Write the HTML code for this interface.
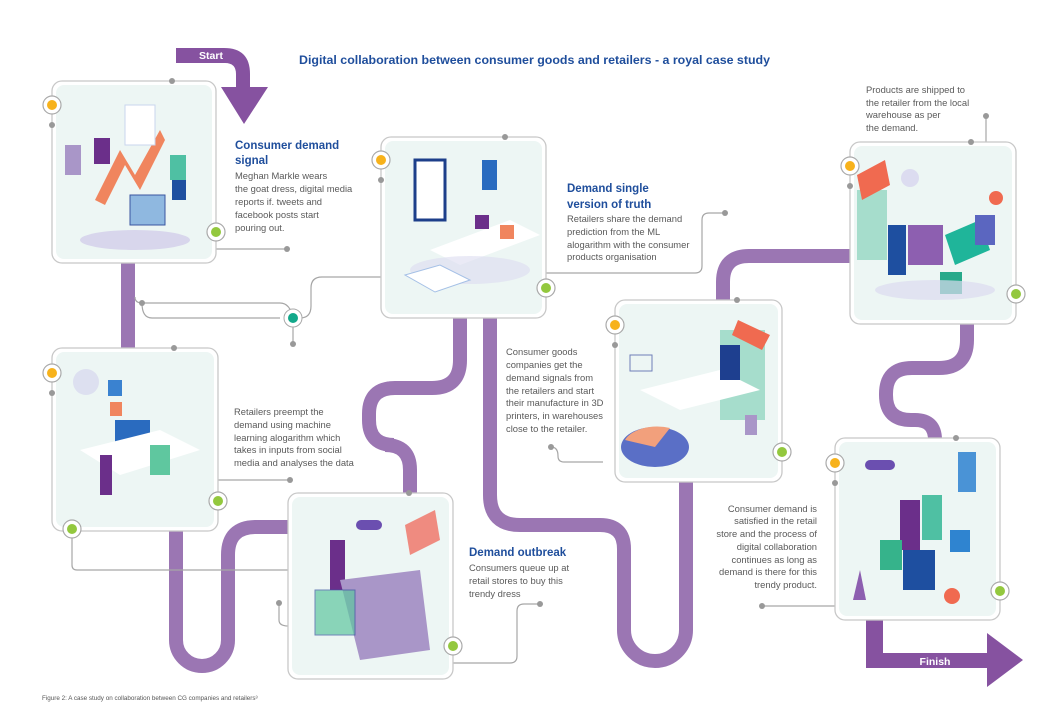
<!DOCTYPE html>
<html><head><meta charset="utf-8"><style>
body{margin:0;background:#fff;}
svg{display:block;font-family:"Liberation Sans",sans-serif;}
.t{fill:#5a5a5a;font-size:9.4px;}
.h{fill:#1f4e9c;font-size:11.5px;font-weight:bold;}
</style></head><body>
<svg width="1052" height="713" viewBox="0 0 1052 713" xmlns="http://www.w3.org/2000/svg">
<rect width="1052" height="713" fill="#fff"/>
<g fill="none" stroke="#9b76b3" stroke-width="14">
<path d="M128 262 V350"/>
<path d="M176 530 V640 a26 26 0 0 0 52 0 V555 q0 -28 28 -28 H290"/>
<path d="M460 316 V360 q0 28 -28 28 H395 q-26 0 -26 26 V420 q0 25 25 25 H385 q25 0 25 25 V495"/>
<path d="M490 316 V495 q0 30 30 30 H600 q24 0 24 24 V630 a31 31 0 0 0 62 0 V480"/>
<path d="M723 302 V282 q0 -26 26 -26 H852"/>
<path d="M967 322 V340 q0 28 -28 28 H912 q-26 0 -26 26 V395 q0 25 25 25 H915 q20 0 20 20"/>
</g>
<path d="M176 48 H224 q26 0 26 26 V87 H268 L244 124 L221 87 H236 V74 q0 -11 -11 -11 H176 Z" fill="#8652a0"/>
<text x="211" y="59" fill="#fff" font-size="10.5" font-weight="bold" text-anchor="middle">Start</text>
<path d="M866 620 H883 V653 H987 V633 L1023 660 L987 687 V668 H866 Z" fill="#8652a0"/>
<text x="935" y="665" fill="#fff" font-size="10.5" font-weight="bold" text-anchor="middle">Finish</text>
<text x="299" y="64" fill="#1f4e9c" font-size="12.4" font-weight="bold">Digital collaboration between consumer goods and retailers - a royal case study</text>
<g fill="none" stroke="#a6a6a6" stroke-width="1.2">
<path d="M215 249 H287"/>
<path d="M135 297 q0 6 7 6 H280 q10 0 13 15"/>
<path d="M142 303 q0 15 10 15 H280"/>
<path d="M293 318 V344"/>
<path d="M300 318 q11 0 11 -12 V288 q0 -11 11 -11 H382"/>
<path d="M546 273 H695 q7 0 7 -7 V220 q0 -7 7 -7 H725"/>
<path d="M986 142 V116"/>
<path d="M603 462 H564 q-6 0 -6 -6 q0 -9 -7 -9"/>
<path d="M218 480 H290"/>
<path d="M72 530 V565 q0 5 5 5 H289"/>
<path d="M279 603 V620 q0 6 9 6"/>
<path d="M452 663 H510 q7 0 7 -7 V611 q0 -7 7 -7 H540"/>
<path d="M835 606 H762"/>
</g>
<g fill="#999">
<circle cx="287" cy="249" r="3"/><circle cx="142" cy="303" r="3"/><circle cx="293" cy="344" r="3"/>
<circle cx="725" cy="213" r="3"/><circle cx="986" cy="116" r="3"/><circle cx="551" cy="447" r="3"/>
<circle cx="290" cy="480" r="3"/><circle cx="279" cy="603" r="3"/><circle cx="540" cy="604" r="3"/><circle cx="762" cy="606" r="3"/>
</g>
<circle cx="293" cy="318" r="9" fill="#fff" stroke="#aaa"/><circle cx="293" cy="318" r="5" fill="#12a88a"/>
<g>
<g><rect x="52" y="81" width="164" height="182" rx="10" fill="#fff" stroke="#c8c8c8" stroke-width="1.3"/><rect x="56" y="85" width="156" height="174" rx="8" fill="#edf6f4"/></g>
<g><rect x="381" y="137" width="165" height="181" rx="10" fill="#fff" stroke="#c8c8c8" stroke-width="1.3"/><rect x="385" y="141" width="157" height="173" rx="8" fill="#edf6f4"/></g>
<g><rect x="52" y="348" width="166" height="183" rx="10" fill="#fff" stroke="#c8c8c8" stroke-width="1.3"/><rect x="56" y="352" width="158" height="175" rx="8" fill="#edf6f4"/></g>
<g><rect x="288" y="493" width="165" height="186" rx="10" fill="#fff" stroke="#c8c8c8" stroke-width="1.3"/><rect x="292" y="497" width="157" height="178" rx="8" fill="#edf6f4"/></g>
<g><rect x="615" y="300" width="167" height="182" rx="10" fill="#fff" stroke="#c8c8c8" stroke-width="1.3"/><rect x="619" y="304" width="159" height="174" rx="8" fill="#edf6f4"/></g>
<g><rect x="850" y="142" width="166" height="182" rx="10" fill="#fff" stroke="#c8c8c8" stroke-width="1.3"/><rect x="854" y="146" width="158" height="174" rx="8" fill="#edf6f4"/></g>
<g><rect x="835" y="438" width="165" height="182" rx="10" fill="#fff" stroke="#c8c8c8" stroke-width="1.3"/><rect x="839" y="442" width="157" height="174" rx="8" fill="#edf6f4"/></g>
</g>
<g>
<ellipse cx="135" cy="240" rx="55" ry="10" fill="#d8d6ec"/>
<path d="M95 200 L120 150 L135 175 L160 130 L165 140 L140 190 L125 165 L105 205Z" fill="#f0855e"/>
<rect x="125" y="105" width="30" height="40" fill="#fff" stroke="#c9d5ee"/>
<rect x="65" y="145" width="16" height="30" fill="#a996c8"/><rect x="94" y="138" width="16" height="26" fill="#6b2f8a"/>
<rect x="130" y="195" width="35" height="30" fill="#8fb8e0" stroke="#3a55a0"/><rect x="170" y="155" width="16" height="25" fill="#4fc0a3"/><rect x="172" y="180" width="14" height="20" fill="#1e4fa0"/>
<rect x="415" y="160" width="30" height="60" fill="#fff" stroke="#1d3f8a" stroke-width="3"/>
<path d="M430 250 L510 220 L540 235 L460 265Z" fill="#fff"/><ellipse cx="470" cy="270" rx="60" ry="14" fill="#dcdcf0" opacity=".6"/>
<rect x="482" y="160" width="15" height="30" fill="#2a6bbf"/><rect x="475" y="215" width="14" height="14" fill="#6b2f8a"/><rect x="500" y="225" width="14" height="14" fill="#f0855e"/>
<path d="M405 275 L440 265 L470 280 L435 292Z" fill="#fff" stroke="#a5c0e6"/>
<circle cx="86" cy="382" r="13" fill="#dde0f0"/><rect x="108" y="380" width="14" height="16" fill="#3a82d0"/><rect x="110" y="402" width="12" height="14" fill="#f0855e"/>
<rect x="115" y="420" width="35" height="28" fill="#2a6bbf"/><path d="M80 450 L160 430 L200 450 L120 475Z" fill="#fff"/>
<rect x="100" y="455" width="12" height="40" fill="#6b2f8a"/><rect x="150" y="445" width="20" height="30" fill="#5fc79f"/>
<rect x="330" y="540" width="15" height="50" fill="#6b2f8a"/><path d="M340 580 L420 570 L430 650 L360 660Z" fill="#a996c8"/>
<rect x="315" y="590" width="40" height="45" fill="#5fc79f" opacity=".7" stroke="#3a55a0"/>
<rect x="356" y="520" width="26" height="10" rx="5" fill="#6b4fb0"/><path d="M405 525 L435 510 L440 540 L410 555Z" fill="#ef5e4e" opacity=".7"/>
<rect x="720" y="330" width="45" height="90" fill="#a6ddcc"/><path d="M738 320 L770 335 L762 350 L732 335Z" fill="#f06a50"/>
<path d="M640 390 L720 370 L760 390 L680 410Z" fill="#fff"/><rect x="720" y="345" width="20" height="35" fill="#1e3f8f"/>
<ellipse cx="655" cy="447" rx="34" ry="20" fill="#5a6fc6"/><path d="M655 447 L625 440 A34 20 0 0 1 670 428Z" fill="#f2a07c"/>
<rect x="630" y="355" width="22" height="16" fill="none" stroke="#6e7fb8"/><rect x="745" y="415" width="12" height="20" fill="#a996c8"/>
<rect x="857" y="190" width="30" height="70" fill="#a6ddcc"/><path d="M857 175 L885 160 L890 185 L862 200Z" fill="#f06a50"/>
<rect x="888" y="225" width="18" height="50" fill="#1e4fa0"/><rect x="908" y="225" width="35" height="40" fill="#8d5fb0"/>
<path d="M945 235 L980 220 L990 250 L955 265Z" fill="#1fb59a"/><rect x="975" y="215" width="20" height="30" fill="#5b66c0"/>
<circle cx="996" cy="198" r="7" fill="#f06a50"/><rect x="940" y="272" width="22" height="22" fill="#27a98a"/>
<circle cx="910" cy="178" r="9" fill="#dcdcf0"/><ellipse cx="935" cy="290" rx="60" ry="10" fill="#dcdcf0" opacity=".7"/>
<rect x="865" y="460" width="30" height="10" rx="5" fill="#6b4fb0"/><rect x="958" y="452" width="18" height="40" fill="#4a93d6"/>
<rect x="900" y="500" width="20" height="50" fill="#6b2f8a"/><rect x="922" y="495" width="20" height="45" fill="#4fc0a3"/>
<rect x="903" y="550" width="32" height="40" fill="#1e4fa0"/><rect x="880" y="540" width="22" height="30" fill="#36b38b"/>
<rect x="950" y="530" width="20" height="22" fill="#2f84d0"/><circle cx="952" cy="596" r="8" fill="#f06a50"/>
<path d="M853 600 L860 570 L866 600Z" fill="#8d5fb0"/>
</g>
<g>
<g fill="#fff" stroke="#aaa" stroke-width="1.2">
<circle cx="52" cy="105" r="9"/><circle cx="216" cy="232" r="9"/>
<circle cx="381" cy="160" r="9"/><circle cx="546" cy="288" r="9"/>
<circle cx="52" cy="373" r="9"/><circle cx="218" cy="501" r="9"/><circle cx="72" cy="529" r="9"/>
<circle cx="453" cy="646" r="9"/>
<circle cx="615" cy="325" r="9"/><circle cx="782" cy="452" r="9"/>
<circle cx="850" cy="166" r="9"/><circle cx="1016" cy="294" r="9"/>
<circle cx="835" cy="463" r="9"/><circle cx="1000" cy="591" r="9"/>
</g>
<g fill="#f7b21b"><circle cx="52" cy="105" r="5"/><circle cx="381" cy="160" r="5"/><circle cx="52" cy="373" r="5"/><circle cx="615" cy="325" r="5"/><circle cx="850" cy="166" r="5"/><circle cx="835" cy="463" r="5"/></g>
<g fill="#93c83e"><circle cx="216" cy="232" r="5"/><circle cx="546" cy="288" r="5"/><circle cx="218" cy="501" r="5"/><circle cx="72" cy="529" r="5"/><circle cx="453" cy="646" r="5"/><circle cx="782" cy="452" r="5"/><circle cx="1016" cy="294" r="5"/><circle cx="1000" cy="591" r="5"/></g>
<g fill="#999"><circle cx="172" cy="81" r="3"/><circle cx="52" cy="125" r="3"/><circle cx="505" cy="137" r="3"/><circle cx="381" cy="180" r="3"/>
<circle cx="174" cy="348" r="3"/><circle cx="52" cy="393" r="3"/><circle cx="409" cy="493" r="3"/><circle cx="737" cy="300" r="3"/><circle cx="615" cy="345" r="3"/>
<circle cx="971" cy="142" r="3"/><circle cx="850" cy="186" r="3"/><circle cx="956" cy="438" r="3"/><circle cx="835" cy="483" r="3"/></g>
</g>
<text class="h" x="235" y="149">Consumer demand</text>
<text class="h" x="235" y="164">signal</text>
<g class="t"><text x="235" y="179">Meghan Markle wears</text><text x="235" y="192">the goat dress, digital media</text><text x="235" y="205">reports if. tweets and</text><text x="235" y="218">facebook posts start</text><text x="235" y="231">pouring out.</text></g>
<text class="h" x="567" y="192">Demand single</text>
<text class="h" x="567" y="208">version of truth</text>
<g class="t"><text x="567" y="222">Retailers share the demand</text><text x="567" y="235">prediction from the ML</text><text x="567" y="248">alogarithm with the consumer</text><text x="567" y="260">products organisation</text></g>
<g class="t"><text x="866" y="93">Products are shipped to</text><text x="866" y="106">the retailer from  the local</text><text x="866" y="118">warehouse as per</text><text x="866" y="131">the demand.</text></g>
<g class="t"><text x="506" y="355">Consumer goods</text><text x="506" y="368">companies get the</text><text x="506" y="381">demand signals from</text><text x="506" y="394">the retailers and start</text><text x="506" y="406">their manufacture in 3D</text><text x="506" y="419">printers, in warehouses</text><text x="506" y="432">close to the retailer.</text></g>
<g class="t"><text x="234" y="415">Retailers preempt the</text><text x="234" y="428">demand using machine</text><text x="234" y="441">learning alogarithm which</text><text x="234" y="453">takes in inputs from social</text><text x="234" y="466">media and analyses the data</text></g>
<text class="h" x="469" y="556">Demand outbreak</text>
<g class="t"><text x="469" y="571">Consumers queue up at</text><text x="469" y="584">retail stores to buy this</text><text x="469" y="597">trendy dress</text></g>
<g class="t" text-anchor="end"><text x="817" y="512">Consumer demand is</text><text x="817" y="524">satisfied in the retail</text><text x="817" y="537">store and the process of</text><text x="817" y="550">digital collaboration</text><text x="817" y="563">continues as long as</text><text x="817" y="575">demand is there for this</text><text x="817" y="588">trendy product.</text></g>
<text x="42" y="700" fill="#555" font-size="6.3">Figure 2: A case study on collaboration between CG companies and retailers³</text>
</svg>
</body></html>
